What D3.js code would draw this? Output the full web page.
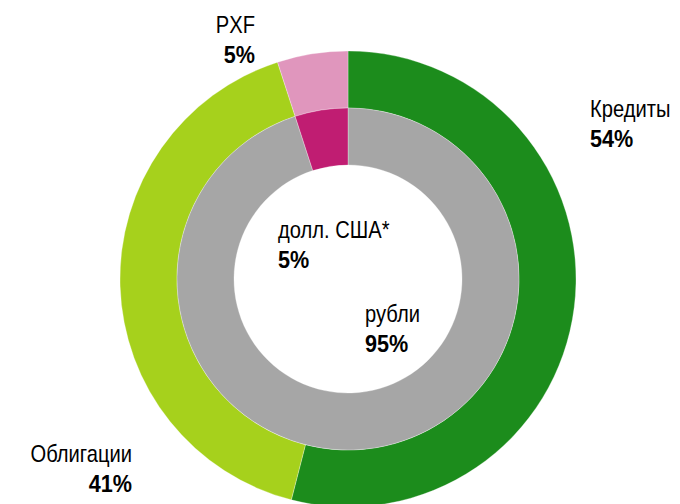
<!DOCTYPE html>
<html>
<head>
<meta charset="utf-8">
<script src="https://cdn.jsdelivr.net/npm/d3@7"></script>
<style>
  body { margin: 0; background: #fff; }
  svg text { font-family: "Liberation Sans Narrow", "Arial Narrow", "Liberation Sans", Arial, sans-serif; font-size: 24px; fill: #000; }
  .pct { font-weight: bold; }
</style>
</head>
<body>
<div id="chart"></div>
<script>
// outer ring: by instrument
const outerLabels = ["Кредиты", "Облигации", "PXF"];
const outerValues = [54, 41, 5];
const outerColors = ["#1c8c1c", "#a6d11c", "#e096bd"];

// inner ring: by currency
const innerLabels = ["рубли", "долл. США*"];
const innerValues = [95, 5];
const innerColors = ["#a6a6a6", "#c01d72"];

const width = 680, height = 504;
const cx = 348, cy = 279;

const svg = d3.select("#chart").append("svg")
  .attr("width", width)
  .attr("height", height);

const g = svg.append("g").attr("transform", `translate(${cx},${cy})`);

const pie = d3.pie().sort(null).value(d => d);

const outerArc = d3.arc().innerRadius(171).outerRadius(228);
const innerArc = d3.arc().innerRadius(114).outerRadius(171);

g.selectAll(".outer")
  .data(pie(outerValues))
  .enter().append("path")
  .attr("class", "outer")
  .attr("d", outerArc)
  .attr("fill", (d, i) => outerColors[i])
  .attr("stroke", "#fff")
  .attr("stroke-width", 0.3);

g.selectAll(".inner")
  .data(pie(innerValues))
  .enter().append("path")
  .attr("class", "inner")
  .attr("d", innerArc)
  .attr("fill", (d, i) => innerColors[i])
  .attr("stroke", "#fff")
  .attr("stroke-width", 0.3);

// labels: name on first line, bold percent below
// the original font is a narrow one, so squeeze the text horizontally
const labels = [
  { name: outerLabels[0], value: outerValues[0], x: 590, y: 117, anchor: "start" },
  { name: outerLabels[1], value: outerValues[1], x: 132, y: 462, anchor: "end" },
  { name: outerLabels[2], value: outerValues[2], x: 255, y: 33, anchor: "end" },
  { name: innerLabels[0], value: innerValues[0], x: 365, y: 322, anchor: "start" },
  { name: innerLabels[1], value: innerValues[1], x: 278, y: 238, anchor: "start" }
];

labels.forEach(d => {
  svg.append("text")
    .attr("transform", `translate(${d.x},${d.y}) scale(0.84,1)`)
    .attr("text-anchor", d.anchor)
    .text(d.name);
  svg.append("text")
    .attr("class", "pct")
    .attr("transform", `translate(${d.x},${d.y + 30}) scale(0.9,1)`)
    .attr("text-anchor", d.anchor)
    .text(d.value + "%");
});
</script>
</body>
</html>
